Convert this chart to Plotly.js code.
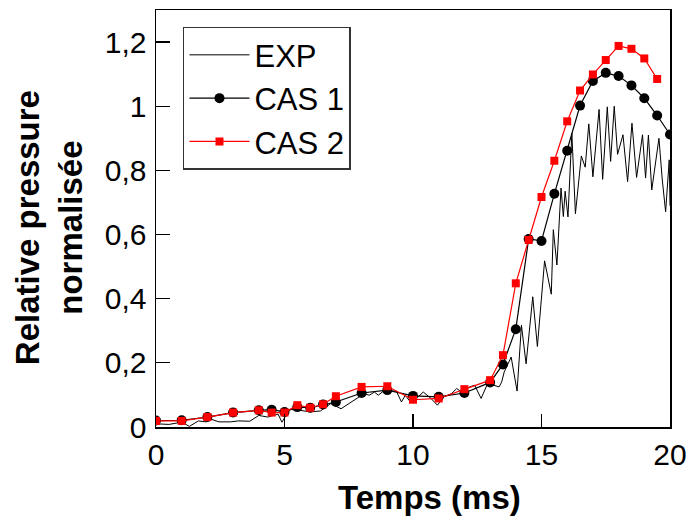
<!DOCTYPE html>
<html>
<head>
<meta charset="utf-8">
<script src="https://cdn.plot.ly/plotly-3.0.1.min.js"></script>
<style>html,body{margin:0;padding:0;background:#fff;}#chart{width:689px;height:521px;}</style>
</head>
<body>
<div id="chart"></div>
<script>
const expX = [0, 0.5, 1.0, 1.3, 1.65, 1.95, 2.15, 2.45, 2.9, 3.2, 3.65, 4.0, 4.35, 4.75, 4.9, 5.2, 5.6, 6.0, 6.4, 6.8, 7.2, 7.6, 7.9, 8.1, 8.3, 8.5, 8.65, 8.85, 9.1, 9.35, 9.55, 9.7, 9.85, 10.0, 10.2, 10.4, 10.7, 10.95, 11.2, 11.5, 11.7, 11.9, 12.2, 12.4, 12.65, 12.9, 13.15, 13.35, 13.45, 13.55, 13.82, 14.05, 14.22, 14.4, 14.66, 14.84, 15.12, 15.38, 15.46, 15.6, 15.76, 15.85, 15.92, 16.03, 16.18, 16.32, 16.55, 16.7, 16.84, 17.0, 17.24, 17.38, 17.56, 17.69, 17.83, 17.96, 18.17, 18.35, 18.52, 18.7, 18.93, 19.05, 19.16, 19.29, 19.57, 19.7, 19.83, 19.97, 20.0];
const expY = [0.010, 0.008, 0.015, 0.002, 0.019, 0.016, 0.024, 0.016, 0.016, 0.019, 0.018, 0.036, 0.031, 0.040, 0.015, 0.055, 0.052, 0.047, 0.050, 0.073, 0.057, 0.078, 0.094, 0.104, 0.099, 0.109, 0.099, 0.112, 0.112, 0.112, 0.078, 0.099, 0.083, 0.106, 0.094, 0.109, 0.089, 0.068, 0.094, 0.104, 0.120, 0.109, 0.125, 0.130, 0.089, 0.135, 0.130, 0.125, 0.140, 0.172, 0.218, 0.112, 0.317, 0.197, 0.406, 0.251, 0.518, 0.414, 0.615, 0.505, 0.745, 0.656, 0.735, 0.655, 0.916, 0.665, 0.845, 0.810, 0.945, 0.780, 0.990, 0.772, 0.998, 0.828, 1.000, 0.850, 0.911, 0.765, 0.947, 0.778, 0.911, 0.776, 0.910, 0.739, 0.900, 0.770, 0.671, 0.833, 0.690];

const cas1X = [0, 1, 2, 3, 4, 4.5, 5, 5.5, 6, 6.5, 7, 8, 9, 10, 11, 12, 13, 13.5, 14, 14.5, 15, 15.5, 16, 16.5, 17, 17.5, 18, 18.5, 19, 19.5, 20];
const cas1Y = [0.020, 0.021, 0.031, 0.045, 0.052, 0.054, 0.047, 0.062, 0.060, 0.070, 0.078, 0.106, 0.115, 0.097, 0.094, 0.106, 0.139, 0.195, 0.305, 0.586, 0.580, 0.727, 0.861, 1.002, 1.079, 1.104, 1.094, 1.065, 1.025, 0.971, 0.912];

const cas2X = [0, 1, 2, 3, 4, 4.5, 5, 5.5, 6, 6.5, 7, 8, 9, 10, 11, 12, 13, 13.5, 14, 14.5, 15, 15.5, 16, 16.5, 17, 17.5, 18, 18.5, 19, 19.5];
const cas2Y = [0.019, 0.019, 0.031, 0.045, 0.052, 0.045, 0.045, 0.068, 0.060, 0.071, 0.096, 0.125, 0.127, 0.085, 0.089, 0.118, 0.146, 0.224, 0.448, 0.583, 0.717, 0.830, 0.953, 1.049, 1.099, 1.144, 1.188, 1.179, 1.149, 1.085];

const seriesNames = ['EXP', 'CAS 1', 'CAS 2'];
const xTitle = 'Temps (ms)';
const yTitle = 'Relative pressure<br>normalisée';

const FONT = 'Liberation Sans, Arial, sans-serif';

const traces = [
  {x: expX, y: expY, name: seriesNames[0], type: 'scatter', mode: 'lines',
   line: {color: '#000', width: 1}},
  {x: cas1X, y: cas1Y, name: seriesNames[1], type: 'scatter', mode: 'lines+markers',
   line: {color: '#000', width: 1.2}, marker: {symbol: 'circle', size: 10, color: '#000'}},
  {x: cas2X, y: cas2Y, name: seriesNames[2], type: 'scatter', mode: 'lines+markers',
   line: {color: '#ff0000', width: 1.2}, marker: {symbol: 'square', size: 8, color: '#ff0000'}}
];

const layout = {
  width: 689, height: 521,
  margin: {l: 156, r: 19, t: 10, b: 94},
  paper_bgcolor: '#fff', plot_bgcolor: '#fff',
  separators: ', ',
  font: {family: FONT, size: 30, color: '#000'},
  showlegend: true,
  legend: {
    x: 0.0525, y: 0.96, xanchor: 'left', yanchor: 'top',
    bgcolor: '#fff', bordercolor: '#333', borderwidth: 1.5,
    font: {family: FONT, size: 31, color: '#000'},
    itemwidth: 60
  },
  xaxis: {
    range: [0, 20], dtick: 5, tick0: 0,
    showline: true, linecolor: '#000', linewidth: 1.5, mirror: true,
    ticks: 'inside', ticklen: 13, tickwidth: 1.2, tickcolor: '#000',
    showgrid: false, zeroline: false,
    tickfont: {family: FONT, size: 30, color: '#000'},
    ticklabelstandoff: 0
  },
  yaxis: {
    range: [0, 1.3], dtick: 0.2, tick0: 0,
    showline: true, linecolor: '#000', linewidth: 1.5, mirror: true,
    ticks: 'inside', ticklen: 14, tickwidth: 1.2, tickcolor: '#000',
    showgrid: false, zeroline: false,
    tickfont: {family: FONT, size: 30, color: '#000'},
    ticklabelstandoff: 2
  },
  annotations: [
    {text: xTitle, xref: 'paper', yref: 'paper', x: 0.533, y: -0.168,
     xanchor: 'center', yanchor: 'middle', showarrow: false,
     font: {family: FONT, size: 33, color: '#000', weight: 'bold'}},
    {text: yTitle, xref: 'paper', yref: 'paper', x: -0.208, y: 0.477,
     xanchor: 'center', yanchor: 'middle', showarrow: false, textangle: -90,
     font: {family: FONT, size: 33, color: '#000', weight: 'bold'}}
  ]
};

Plotly.newPlot('chart', traces, layout, {displayModeBar: false, staticPlot: true});
</script>
</body>
</html>
